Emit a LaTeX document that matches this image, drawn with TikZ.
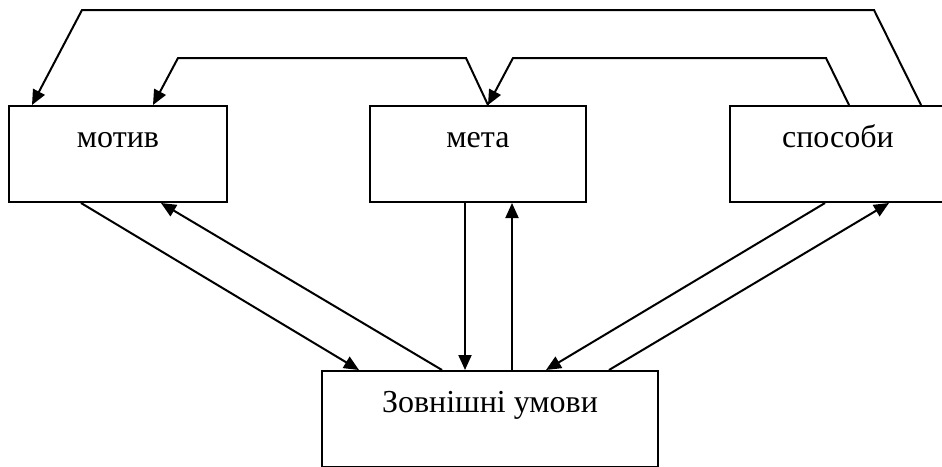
\documentclass[tikz,border=0pt]{standalone}
\usepackage{fontspec}
\setmainfont{Liberation Serif}
\usetikzlibrary{arrows.meta}
\begin{document}
\begin{tikzpicture}[x=1pt,y=-1pt,
  box/.style={draw,line width=2pt,rectangle,minimum height=96pt,inner sep=0pt},
  lbl/.style={anchor=base,inner sep=0pt,font=\fontsize{32}{36}\selectfont},
  conn/.style={line width=2pt,line join=miter},
  arr/.style={conn,-{Triangle[length=15pt,width=13pt]}}]
\useasboundingbox[fill=white] (0,0) rectangle (942,466);
\node[box,minimum width=218pt] (motiv) at (118,154) {};
\node[box,minimum width=216pt] (meta) at (478,154) {};
\node[box,minimum width=216pt] (spos) at (838,154) {};
\node[box,minimum width=336pt] (zovn) at (490,419) {};
\node[lbl] (motivt) at (118,147) {мотив};
\node[lbl] (metat) at (478,147) {мета};
\node[lbl] (spost) at (838,147) {способи};
\node[lbl] (zovnt) at (490,412) {Зовнішні умови};
% top loops
\draw[arr] ([xshift=192pt]spos.north west) -- (874,10) -- (82,10) -- ([xshift=24pt]motiv.north west);
\draw[arr] ([xshift=120pt]spos.north west) -- (826,58) -- (513,58) -- ([xshift=119pt]meta.north west);
\draw[arr] ([xshift=119pt]meta.north west) -- (466,58) -- (178,58) -- ([xshift=145pt]motiv.north west);
% bottom connectors
\draw[arr] ([xshift=73pt]motiv.south west) -- ([xshift=38pt]zovn.north west);
\draw[arr] ([xshift=121pt]zovn.north west) -- ([xshift=153pt]motiv.south west);
\draw[arr] ([xshift=96pt]meta.south west) -- ([xshift=144pt]zovn.north west);
\draw[arr] ([xshift=191pt]zovn.north west) -- ([xshift=143pt]meta.south west);
\draw[arr] ([xshift=96pt]spos.south west) -- ([xshift=225pt]zovn.north west);
\draw[arr] ([xshift=288pt]zovn.north west) -- ([xshift=160pt]spos.south west);
\end{tikzpicture}
\end{document}
